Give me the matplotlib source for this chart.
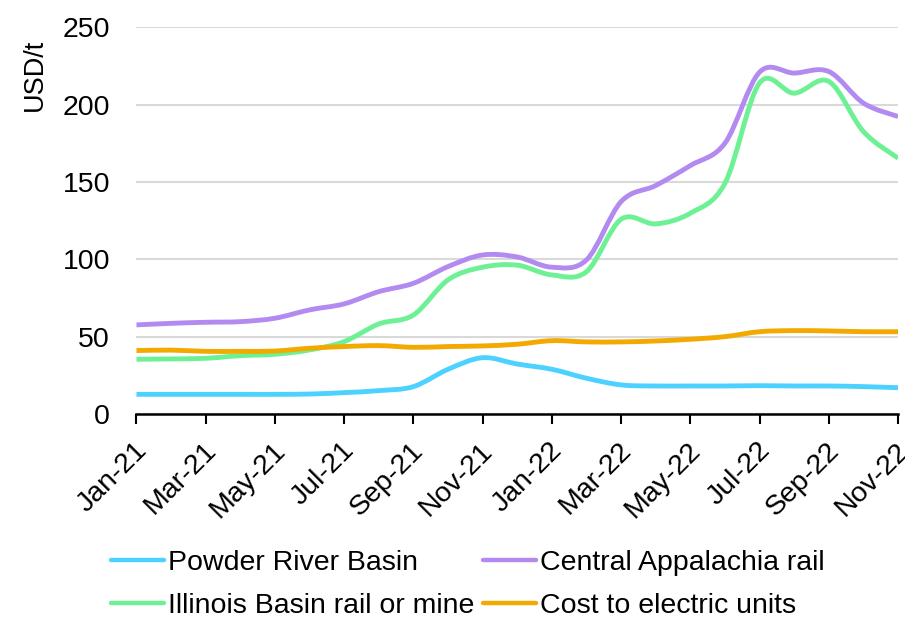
import matplotlib
matplotlib.use("Agg")
import matplotlib.pyplot as plt
import matplotlib.transforms as mtransforms
import numpy as np
from matplotlib.path import Path
from matplotlib.patches import PathPatch
from matplotlib.lines import Line2D

plt.rcParams['font.family'] = ['Liberation Sans', 'DejaVu Sans']

months = ["Jan-21", "Feb-21", "Mar-21", "Apr-21", "May-21", "Jun-21", "Jul-21", "Aug-21",
          "Sep-21", "Oct-21", "Nov-21", "Dec-21", "Jan-22", "Feb-22", "Mar-22", "Apr-22",
          "May-22", "Jun-22", "Jul-22", "Aug-22", "Sep-22", "Oct-22", "Nov-22"]

powder_river = [12.7, 12.7, 12.7, 12.7, 12.7, 12.9, 13.8, 15.1, 17.7, 28.9, 36.4, 32.3,
                28.9, 23.1, 18.8, 18.1, 18.1, 18.1, 18.3, 18.1, 18.1, 17.7, 17.0]
central_app = [57.6, 58.6, 59.3, 59.7, 61.9, 67.3, 71.2, 79.1, 84.5, 95.3, 102.8, 101.5,
               94.9, 99.6, 137.3, 147.7, 160.6, 175.1, 221.0, 220.4, 221.4, 201.0, 192.3]
illinois = [35.4, 35.6, 36.0, 37.7, 38.6, 41.4, 46.8, 58.2, 64.0, 86.7, 94.9, 96.2,
            89.9, 92.0, 125.9, 122.9, 129.8, 149.2, 214.0, 207.4, 215.0, 182.6, 165.4]
cost_electric = [41.0, 41.3, 40.5, 40.5, 40.7, 42.5, 43.6, 44.2, 43.1, 43.6, 44.0, 45.1,
                 47.4, 46.6, 46.6, 47.2, 48.3, 50.0, 53.2, 53.9, 53.7, 53.2, 53.2]

series = [
    ("Powder River Basin", powder_river, "#4dd2ff"),
    ("Central Appalachia rail", central_app, "#b38af0"),
    ("Illinois Basin rail or mine", illinois, "#6ef095"),
    ("Cost to electric units", cost_electric, "#f2a900"),
]

fig = plt.figure(figsize=(9.05, 6.19), dpi=100)
ax = fig.add_axes([0.1508, 0.3312, 0.8415, 0.6247])

x = np.arange(len(months))


def smooth_path(xs, ys):
    pts = np.column_stack([xs, ys]).astype(float)
    n = len(pts)
    verts = [pts[0]]
    codes = [Path.MOVETO]
    for i in range(n - 1):
        p0 = pts[i - 1] if i > 0 else pts[i]
        p1 = pts[i]
        p2 = pts[i + 1]
        p3 = pts[i + 2] if i + 2 < n else pts[i + 1]
        c1 = p1 + (p2 - p0) / 6.0
        c2 = p2 - (p3 - p1) / 6.0
        verts += [c1, c2, p2]
        codes += [Path.CURVE4] * 3
    return Path(verts, codes)


lw = 3.5
for name, vals, col in series:
    patch = PathPatch(smooth_path(x, vals), facecolor='none', edgecolor=col,
                      linewidth=lw, capstyle='butt', joinstyle='round', zorder=3)
    ax.add_patch(patch)

ax.set_xlim(0, len(months) - 1)
ax.set_ylim(0, 250)
ax.set_yticks([0, 50, 100, 150, 200, 250])
ax.set_xticks(x[::2])
ax.set_xticklabels(months[::2], rotation=45, ha='right', rotation_mode='anchor')

ax.grid(axis='y', color='#d9d9d9', linewidth=1.5, zorder=0)
ax.set_axisbelow(True)
for s in ['top', 'right', 'left']:
    ax.spines[s].set_visible(False)
ax.spines['bottom'].set_linewidth(1.8)
ax.spines['bottom'].set_color('black')
ax.spines['bottom'].set_zorder(4)

ax.tick_params(axis='y', length=0, pad=19, labelsize=20.5)
ax.tick_params(axis='x', length=7, width=1.5, direction='out', pad=8, labelsize=20.5)

offset = mtransforms.ScaledTranslation(-2 / 72, -2 / 72, fig.dpi_scale_trans)
for lab in ax.get_xticklabels():
    lab.set_transform(lab.get_transform() + offset)

fig.text(0.038, 0.879, "USD/t", rotation=90, ha='center', va='center', fontsize=19.5)

order = [0, 2, 1, 3]
handles = [Line2D([], [], color=series[i][2], linewidth=3.2, solid_capstyle='round') for i in order]
labels = [series[i][0] for i in order]
fig.legend(handles, labels, loc='center', bbox_to_anchor=(0.517, 0.056), ncol=2,
           frameon=False, fontsize=20.5, handlelength=1.85, handletextpad=0.15,
           columnspacing=0.3, labelspacing=0.62, borderpad=0)

fig.savefig("out.png", dpi=100)
